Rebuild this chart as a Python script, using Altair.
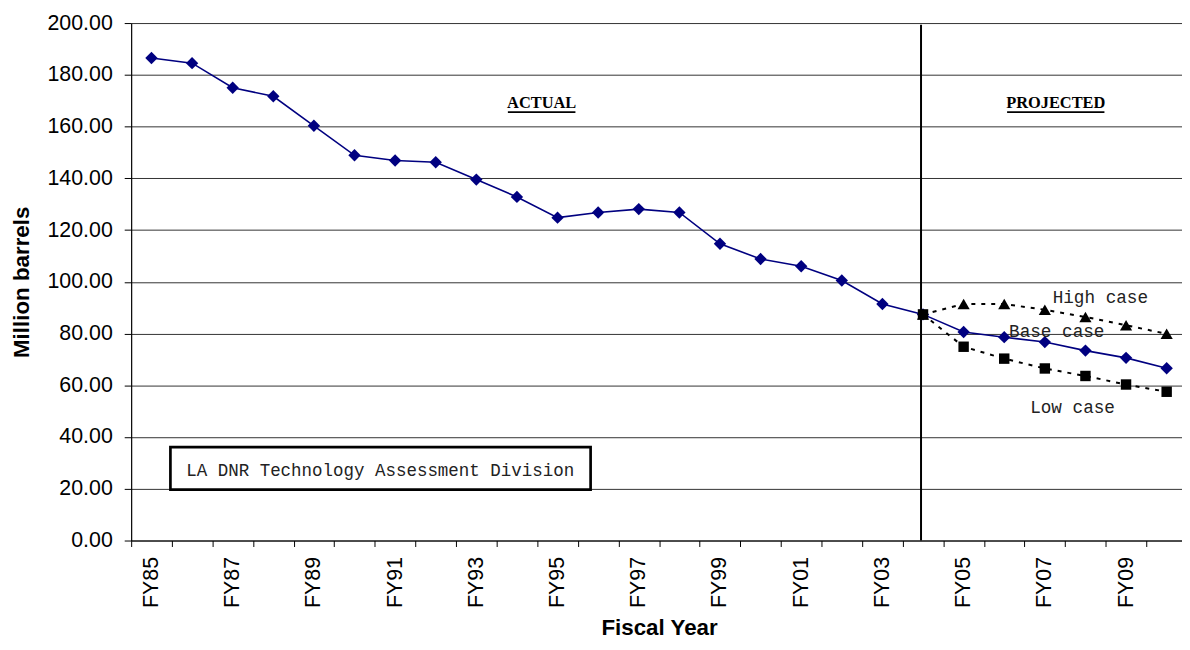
import altair as alt
import pandas as pd

# ---------------- data ----------------
years = ["FY85", "FY86", "FY87", "FY88", "FY89", "FY90", "FY91", "FY92", "FY93",
         "FY94", "FY95", "FY96", "FY97", "FY98", "FY99", "FY00", "FY01", "FY02",
         "FY03", "FY04", "FY05", "FY06", "FY07", "FY08", "FY09", "FY10"]
shown_labels = years[0:25:2]         # FY85, FY87, ... FY09

actual_years = years[:20]            # FY85 .. FY04
actual_vals = [186.5, 184.5, 175.0, 171.7, 160.3, 148.9, 146.9, 146.2, 139.5, 132.8,
               124.8, 126.8, 128.1, 126.8, 114.7, 108.8, 106.0, 100.5, 91.4, 87.4]

proj_years = years[20:]              # FY05 .. FY10
base_vals = [80.6, 78.6, 76.7, 73.4, 70.6, 66.6]

case_years = years[19:]              # FY04 .. FY10
high_vals = [87.4, 91.4, 91.4, 89.2, 86.4, 83.2, 79.9]
low_vals = [87.4, 74.9, 70.3, 66.5, 63.6, 60.3, 57.5]

y_ticks = [0, 20, 40, 60, 80, 100, 120, 140, 160, 180, 200]

# ---------------- tables ----------------
base_df = pd.DataFrame({"year": actual_years + proj_years, "value": actual_vals + base_vals})
high_df = pd.DataFrame({"year": case_years, "value": high_vals})
low_df = pd.DataFrame({"year": case_years, "value": low_vals})

NAVY = "#000080"
SANS = "Liberation Sans"
MONO = "Liberation Mono"
SERIF = "Liberation Serif"

PLOT_W = 1063     # last category runs past the right edge of the page, as in the original
PLOT_H = 521

label_list = "[" + ",".join("'" + s + "'" for s in shown_labels) + "]"

xscale = alt.Scale(domain=years, paddingInner=0, paddingOuter=0)
xaxis = alt.Axis(
    title="Fiscal Year",
    titleFont=SANS, titleFontSize=22.5, titleFontWeight="bold", titleColor="black",
    titlePadding=9,
    labelAngle=270, labelFont=SANS, labelFontSize=21.5, labelColor="black",
    labelPadding=10, labelOverlap=False,
    labelExpr="indexof(" + label_list + ", datum.value) >= 0 ? datum.value : ''",
    tickBand="extent", ticks=True, tickSize=6, tickColor="black", tickWidth=1,
    domainColor="black", domainWidth=1.2, grid=False,
)
yscale = alt.Scale(domain=[0, 200], nice=False)
yaxis = alt.Axis(
    title="Million barrels",
    titleFont=SANS, titleFontSize=22.5, titleFontWeight="bold", titleColor="black",
    titlePadding=14,
    values=y_ticks, format=".2f",
    labelFont=SANS, labelFontSize=21.5, labelColor="black", labelPadding=12,
    tickSize=7, tickColor="black", tickWidth=1,
    domainColor="black", domainWidth=1.2,
    grid=True, gridColor="#333333", gridWidth=1,
)


def X(field):
    return alt.X(f"{field}:N", scale=xscale, axis=xaxis, sort=years)


def Y(field):
    return alt.Y(f"{field}:Q", scale=yscale, axis=yaxis)


divider = alt.Chart(pd.DataFrame({"year": ["FY04"], "top": [199.3], "bot": [0.0]})).mark_rule(
    color="black", strokeWidth=2, xOffset=-2
).encode(x=X("year"), y=Y("top"), y2=alt.Y2("bot"))

base_line = alt.Chart(base_df).mark_line(color=NAVY, strokeWidth=1.6).encode(x=X("year"), y=Y("value"))
base_pts = alt.Chart(base_df).mark_point(shape="diamond", size=155, filled=True, color=NAVY, opacity=1).encode(
    x=X("year"), y=Y("value"))

high_line = alt.Chart(high_df).mark_line(color="black", strokeWidth=2, strokeDash=[4, 6]).encode(
    x=X("year"), y=Y("value"))
high_pts = alt.Chart(high_df).mark_point(shape="triangle-up", size=150, filled=True, color="black", opacity=1).encode(
    x=X("year"), y=Y("value"))

low_line = alt.Chart(low_df).mark_line(color="black", strokeWidth=2, strokeDash=[4, 6]).encode(
    x=X("year"), y=Y("value"))
low_pts = alt.Chart(low_df).mark_point(shape="square", size=110, filled=True, color="black", opacity=1).encode(
    x=X("year"), y=Y("value"))

# section headings, underlined with a rule
head_df = pd.DataFrame({"year": ["FY95", "FY07"], "value": [167.2, 167.2],
                        "label": ["ACTUAL", "PROJECTED"]})
actual_txt = alt.Chart(head_df.iloc[[0]]).mark_text(
    font=SERIF, fontSize=16.5, fontWeight="bold", color="black", align="center",
    baseline="alphabetic", dx=-16).encode(x=X("year"), y=Y("value"), text="label:N")
proj_txt = alt.Chart(head_df.iloc[[1]]).mark_text(
    font=SERIF, fontSize=16.5, fontWeight="bold", color="black", align="center",
    baseline="alphabetic", dx=11).encode(x=X("year"), y=Y("value"), text="label:N")

ul_df = pd.DataFrame({"year": ["FY95", "FY07"], "value": [165.6, 165.6]})
actual_ul = alt.Chart(ul_df.iloc[[0]]).mark_rule(color="black", strokeWidth=1.8, xOffset=-50, x2Offset=18).encode(
    x=X("year"), x2=alt.X2("year"), y=Y("value"))
proj_ul = alt.Chart(ul_df.iloc[[1]]).mark_rule(color="black", strokeWidth=1.8, xOffset=-38, x2Offset=60).encode(
    x=X("year"), x2=alt.X2("year"), y=Y("value"))

case_df = pd.DataFrame({"year": ["FY08", "FY07", "FY08"], "value": [91.75, 78.8, 49.4],
                        "label": ["High case", "Base case", "Low case"], "dx": [15, 12, -13]})
case_layers = []
for i in range(3):
    case_layers.append(
        alt.Chart(case_df.iloc[[i]]).mark_text(
            font=MONO, fontSize=17.8, color="#222222", align="center", baseline="alphabetic",
            dx=int(case_df["dx"][i])
        ).encode(x=X("year"), y=Y("value"), text="label:N")
    )

# credit box
box_df = pd.DataFrame({"x1": ["FY86"], "x2": ["FY96"], "top": [36.1], "bot": [19.7]})
box = alt.Chart(box_df).mark_rect(
    fill="white", stroke="black", strokeWidth=2.7, xOffset=-21.8, x2Offset=-7.6
).encode(
    x=alt.X("x1:N", scale=xscale, axis=xaxis, sort=years, bandPosition=0.5),
    x2=alt.X2("x2", bandPosition=0.5),
    y=Y("top"), y2=alt.Y2("bot"),
)
credit_df = pd.DataFrame({"year": ["FY91"], "value": [25.05], "label": ["LA DNR Technology Assessment Division"]})
credit = alt.Chart(credit_df).mark_text(
    font=MONO, fontSize=17.6, color="#222222", align="center", baseline="alphabetic", dx=-15
).encode(x=X("year"), y=Y("value"), text="label:N")

chart = alt.layer(
    divider, base_line, base_pts, high_line, high_pts, low_line, low_pts,
    actual_txt, proj_txt, actual_ul, proj_ul, *case_layers, box, credit
).properties(
    width=PLOT_W, height=PLOT_H,
    padding={"left": 124, "top": 13, "right": -5, "bottom": 100},
    autosize=alt.AutoSizeParams(type="none"),
    background="white",
).configure_view(stroke=None)

chart.save("out.html", embed_options={"renderer": "svg", "actions": False})
